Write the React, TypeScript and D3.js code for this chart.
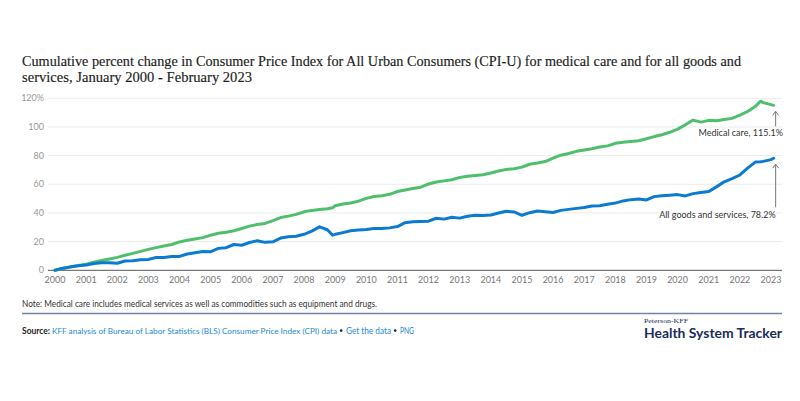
import React from "react";
import * as d3 from "d3";

// Sample months (quarterly, plus a few turning points)
const months = [
  "2000-01", "2000-04", "2000-07", "2000-10",
  "2001-01", "2001-04", "2001-07", "2001-10",
  "2002-01", "2002-04", "2002-07", "2002-10",
  "2003-01", "2003-04", "2003-07", "2003-10",
  "2004-01", "2004-04", "2004-07", "2004-10",
  "2005-01", "2005-04", "2005-07", "2005-10",
  "2006-01", "2006-04", "2006-07", "2006-10",
  "2007-01", "2007-04", "2007-07", "2007-10",
  "2008-01", "2008-04", "2008-07", "2008-10", "2008-12",
  "2009-01", "2009-04", "2009-07", "2009-10",
  "2010-01", "2010-04", "2010-07", "2010-10",
  "2011-01", "2011-04", "2011-07", "2011-10",
  "2012-01", "2012-04", "2012-07", "2012-10",
  "2013-01", "2013-04", "2013-07", "2013-10",
  "2014-01", "2014-04", "2014-07", "2014-10",
  "2015-01", "2015-04", "2015-07", "2015-10",
  "2016-01", "2016-04", "2016-07", "2016-10",
  "2017-01", "2017-04", "2017-07", "2017-10",
  "2018-01", "2018-04", "2018-07", "2018-10",
  "2019-01", "2019-04", "2019-07", "2019-10",
  "2020-01", "2020-04", "2020-07", "2020-10",
  "2021-01", "2021-04", "2021-07", "2021-10",
  "2022-01", "2022-04", "2022-07", "2022-09", "2022-10",
  "2023-01", "2023-02",
];

// Cumulative % change since Jan 2000
const medicalCare = [
  0, 1.3, 2.3, 3.3,
  4.3, 5.6, 6.8, 7.9,
  9.0, 10.5, 11.8, 13.2,
  14.6, 15.8, 16.9, 18.0,
  19.8, 20.9, 21.8, 22.8,
  24.5, 25.9, 26.6, 27.6,
  29.2, 30.8, 31.9, 32.7,
  34.7, 36.8, 37.8, 39.0,
  40.8, 41.8, 42.4, 43.0, 43.6,
  45.0, 46.3, 47.0, 48.2,
  50.2, 51.5, 52.0, 53.0,
  55.0, 56.0, 57.0, 58.0,
  60.2, 61.6, 62.4, 63.2,
  64.8, 65.6, 66.2, 66.7,
  67.9, 69.3, 70.4, 70.9,
  72.0, 74.0, 74.8, 75.9,
  78.2, 80.3, 81.5, 83.0,
  84.0, 84.8, 86.0, 86.8,
  88.6, 89.4, 89.9, 90.4,
  91.8, 93.3, 94.6, 96.3,
  98.5, 101.5, 104.8, 103.4,
  104.6, 104.4, 105.2, 106.0,
  108.2, 110.8, 114.3, 118.0, 117.0,
  115.6, 115.1,
];

const allItems = [
  0, 1.5, 2.4, 3.1,
  3.7, 4.8, 5.2, 5.3,
  4.9, 6.5, 6.7, 7.3,
  7.6, 8.9, 8.9, 9.6,
  9.7, 11.4, 12.2, 13.1,
  13.0, 15.3, 15.8, 18.0,
  17.5, 19.4, 20.6, 19.5,
  19.9, 22.5, 23.4, 23.8,
  25.1, 27.3, 30.3, 28.3, 24.5,
  25.1, 26.3, 27.6, 28.1,
  28.4, 29.1, 29.1, 29.6,
  30.5, 33.2, 33.8, 34.1,
  34.3, 36.3, 35.7, 37.0,
  36.4, 37.7, 38.4, 38.3,
  38.6, 40.0, 41.2, 40.7,
  38.4, 40.2, 41.4, 40.9,
  40.3, 41.8, 42.5, 43.2,
  43.8, 44.8, 45.0, 46.1,
  46.9, 48.4, 49.3, 49.8,
  49.1, 51.4, 52.0, 52.4,
  52.8, 51.9, 53.5, 54.3,
  55.0, 58.2, 61.7, 63.9,
  66.5, 71.3, 75.5, 75.8, 76.0,
  77.2, 78.2,
];

const yearTicks = d3.range(2000, 2024);
const yTicks = [0, 20, 40, 60, 80, 100, 120];

const GREEN = "#4fbf6c";
const BLUE = "#0a7bd0";
const NAVY = "#1c2b5c";
const LINK = "#1a8ad4";
const SANS = "Lato, 'Open Sans', sans-serif";
const SERIF = "'Liberation Serif', serif";

export default function App() {
  const parse = d3.timeParse("%Y-%m");
  const dates = months.map((m) => parse(m) as Date);

  const x = d3
    .scaleTime()
    .domain([new Date(2000, 0, 1), new Date(2023, 0, 1)])
    .range([55, 771]);
  const y = d3.scaleLinear().domain([0, 120]).range([270.3, 98.3]);

  const line = d3
    .line<number>()
    .x((_, i) => x(dates[i]))
    .y((d) => y(d));

  const last = dates.length - 1;
  const endX = x(dates[last]) + 2;
  const medEndY = y(medicalCare[last]);
  const allEndY = y(allItems[last]);

  return (
    <svg
      width={800}
      height={401}
      style={{ position: "absolute", left: 0, top: 0, background: "#fff" }}
    >
      <rect width={800} height={401} fill="#fff" />

      {/* title */}
      <g fontFamily={SERIF} fontSize={14.2} fill="#222" stroke="#222" strokeWidth={0.15}>
        <text x={22} y={66} textLength={719} lengthAdjust="spacingAndGlyphs">
          Cumulative percent change in Consumer Price Index for All Urban Consumers (CPI-U) for medical care and for all goods and
        </text>
        <text x={22} y={82} textLength={230} lengthAdjust="spacingAndGlyphs">
          services, January 2000 - February 2023
        </text>
      </g>

      {/* grid + y labels */}
      <g fontFamily={SANS} fontSize={9} fill="#999">
        {yTicks.map((t) => (
          <g key={t}>
            {t > 0 && (
              <line x1={48} x2={782} y1={y(t)} y2={y(t)} stroke="#ebebeb" strokeWidth={1} />
            )}
            <text x={44} y={y(t) + 3} textAnchor="end">
              {t === 120 ? "120%" : t}
            </text>
          </g>
        ))}
      </g>
      <line x1={48} x2={782} y1={y(0)} y2={y(0)} stroke="#777" strokeWidth={1.3} />

      {/* x labels */}
      <g fontFamily={SANS} fontSize={9} fill="#777" textAnchor="middle">
        {yearTicks.map((yr) => (
          <text key={yr} x={x(new Date(yr, 0, 1))} y={282.5}>
            {yr}
          </text>
        ))}
      </g>

      {/* series */}
      <path
        d={line(medicalCare) ?? ""}
        fill="none"
        stroke={GREEN}
        strokeWidth={3}
        strokeLinejoin="round"
        strokeLinecap="round"
      />
      <path
        d={line(allItems) ?? ""}
        fill="none"
        stroke={BLUE}
        strokeWidth={3}
        strokeLinejoin="round"
        strokeLinecap="round"
      />

      {/* end labels with arrows */}
      <g stroke="#777" strokeWidth={1} fill="none">
        <line x1={endX} x2={endX} y1={medEndY + 6} y2={medEndY + 21} />
        <polyline points={`${endX - 3},${medEndY + 10} ${endX},${medEndY + 6} ${endX + 3},${medEndY + 10}`} />
        <line x1={endX} x2={endX} y1={allEndY + 6} y2={allEndY + 49} />
        <polyline points={`${endX - 3},${allEndY + 10} ${endX},${allEndY + 6} ${endX + 3},${allEndY + 10}`} />
      </g>
      <g fontFamily={SANS} fontSize={9} fill="#333" textAnchor="end">
        <text x={783} y={medEndY + 31}>
          Medical care, 115.1%
        </text>
        <text x={endX} y={allEndY + 60}>
          All goods and services, 78.2%
        </text>
      </g>

      {/* footer */}
      <text x={22} y={306.5} fontFamily={SANS} fontSize={8.6} fill="#333" textLength={355} lengthAdjust="spacingAndGlyphs">
        Note: Medical care includes medical services as well as commodities such as equipment and drugs.
      </text>
      <line x1={22} x2={782} y1={313.5} y2={313.5} stroke="#7483a6" strokeWidth={1.5} />
      <g fontFamily={SANS} fontSize={8.6}>
        <text x={22} y={333.5} fill="#222" fontWeight="bold" textLength={28} lengthAdjust="spacingAndGlyphs">
          Source:
        </text>
        <text x={52} y={333.5} fill={LINK} fontSize={8.1} textLength={285} lengthAdjust="spacingAndGlyphs">
          KFF analysis of Bureau of Labor Statistics (BLS) Consumer Price Index (CPI) data
        </text>
        <text x={346} y={333.5} fill={LINK} textLength={45} lengthAdjust="spacingAndGlyphs">
          Get the data
        </text>
        <text x={400} y={333.5} fill={LINK} textLength={14} lengthAdjust="spacingAndGlyphs">
          PNG
        </text>
      </g>
      {/* bullet separators */}
      <circle cx={341.2} cy={330.6} r={1.3} fill="#222" />
      <circle cx={395.2} cy={330.6} r={1.3} fill="#222" />

      {/* logo */}
      <text x={644} y={323} fontFamily={SERIF} fontSize={6.8} fill={NAVY} textLength={44} lengthAdjust="spacingAndGlyphs">
        Peterson-KFF
      </text>
      <text x={644} y={338} fontFamily={SANS} fontSize={12.5} fontWeight="bold" fill={NAVY} textLength={138} lengthAdjust="spacingAndGlyphs">
        Health System Tracker
      </text>
    </svg>
  );
}
